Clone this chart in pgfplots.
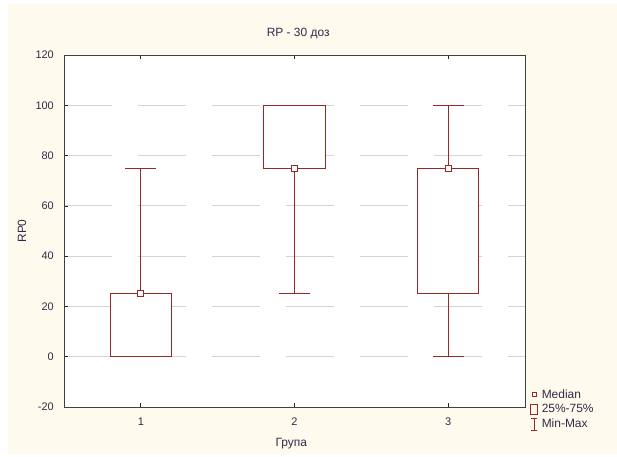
\documentclass[border=0pt]{standalone}
\usepackage{fontspec}
\setmainfont{Liberation Sans}
\usepackage{pgfplots}
\pgfplotsset{compat=1.18}
\usepgfplotslibrary{statistics}
\definecolor{cream}{RGB}{255,250,238}
\definecolor{boxred}{RGB}{150,40,40}
\definecolor{txt}{RGB}{45,45,70}
\definecolor{gridc}{RGB}{212,212,212}
\begin{document}
\begin{tikzpicture}
\fill[white] (0bp,0bp) rectangle (617bp,457bp);
\fill[cream] (8bp,3bp) rectangle (617bp,453bp);
\begin{axis}[
  at={(64bp,50bp)}, anchor=south west,
  scale only axis, width=461bp, height=352bp,
  xmin=0.5, xmax=3.5, ymin=-20, ymax=120,
  xtick={1,2,3}, ytick={-20,0,20,40,60,80,100,120},
  axis background/.style={fill=white},
  axis line style={black!75, line width=0.9bp},
  tick style={black!85, line width=0.7bp},
  major tick length=4bp,
  tick align=inside,
  xtick pos=both, ytick pos=left,
  ymajorgrids,
  grid style={gridc, line width=0.8bp, dash pattern=on 48bp off 26bp},
  font=\fontsize{12}{14}\selectfont,
  every tick label/.append style={txt, inner sep=0pt, font=\fontsize{11}{13}\selectfont},
  /pgf/number format/assume math mode=true,
  yticklabel shift=10bp,
  xticklabel shift=11bp,
  title={RP - 30 доз},
  title style={at={(axis description cs:0.508,1.045)}, anchor=center, text=txt, font=\fontsize{12}{14}\selectfont},
  xlabel={Група},
  xlabel style={at={(axis description cs:0.493,-0.104)}, anchor=center, text=txt, font=\fontsize{12}{14}\selectfont},
  ylabel={RP0},
  ylabel style={at={(axis description cs:-0.091,0.5)}, anchor=center, text=txt, font=\fontsize{12}{14}\selectfont},
  legend style={at={(1.008,0.052)}, anchor=north west, draw=none, fill=none,
    inner sep=0pt, row sep=3.5bp, font=\fontsize{12}{14}\selectfont, text=txt,
    nodes={inner sep=0.5bp}},
  legend cell align=left,
  boxplot/draw direction=y,
  boxplot/every box/.style={draw=boxred, fill=white, line width=1bp},
  boxplot/every whisker/.style={draw=boxred, line width=1bp},
  boxplot/every median/.style={draw=boxred, line width=1bp},
]
\addlegendimage{legend image code/.code={\path (0bp,0bp) (12bp,0bp); \draw[boxred, line width=0.8bp] (3bp,-2.3bp) rectangle (7.5bp,2.3bp);}}
\addlegendentry{Median}
\addlegendimage{legend image code/.code={\path (0bp,0bp) (9bp,0bp); \draw[boxred, line width=0.9bp] (1bp,-5bp) rectangle (8bp,5bp);}}
\addlegendentry{25\%-75\%}
\addlegendimage{legend image code/.code={\path (0bp,0bp) (11bp,0bp); \draw[boxred, line width=0.9bp] (5bp,-6bp)--(5bp,6bp) (2bp,-6bp)--(8bp,-6bp) (2bp,6bp)--(8bp,6bp);}}
\addlegendentry{Min-Max}

\addplot[boxred, forget plot, boxplot prepared={draw position=1, lower whisker=0, lower quartile=0, median=25, upper quartile=25, upper whisker=75, box extend=0.4, whisker extend=0.2}] coordinates {};
\addplot[boxred, forget plot, boxplot prepared={draw position=2, lower whisker=25, lower quartile=75, median=75, upper quartile=100, upper whisker=100, box extend=0.4, whisker extend=0.2}] coordinates {};
\addplot[boxred, forget plot, boxplot prepared={draw position=3, lower whisker=0, lower quartile=25, median=75, upper quartile=75, upper whisker=100, box extend=0.4, whisker extend=0.2}] coordinates {};

\addplot[only marks, mark=square*, mark size=3bp, mark options={fill=white, draw=boxred, line width=0.8bp}, forget plot] coordinates {(1,25) (2,75) (3,75)};
\end{axis}
\pgfresetboundingbox
\path (0bp,0bp) rectangle (617bp,457bp);
\end{tikzpicture}
\end{document}
